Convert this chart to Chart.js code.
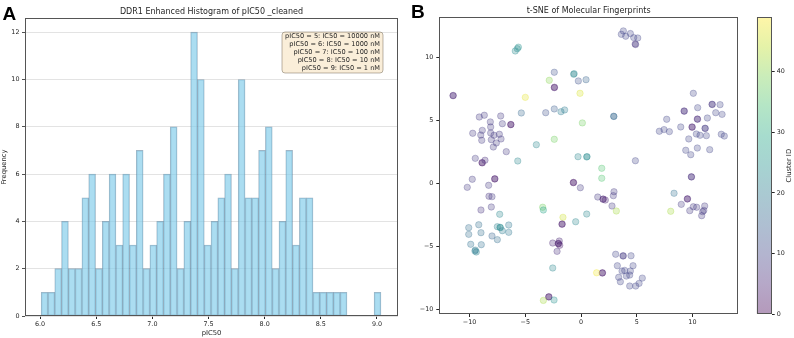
<!DOCTYPE html>
<html>
<head>
<meta charset="utf-8">
<script src="https://cdn.jsdelivr.net/npm/chart.js@4.4.1/dist/chart.umd.min.js"></script>
<style>
  body { margin: 0; width: 794px; height: 338px; background: #fff; position: relative; overflow: hidden; }
  .box { position: absolute; top: 0; height: 338px; }
  .panel { position: absolute; font-family: "Liberation Sans", Arial, sans-serif; font-weight: bold; font-size: 19px; line-height: 19px; color: #000; }
</style>
</head>
<body>
<div class="box" style="left:0;width:405px"><canvas id="histChart"></canvas></div>
<div class="box" style="left:405px;width:340px"><canvas id="tsneChart"></canvas></div>
<div class="box" style="left:750px;width:44px"><canvas id="cbarChart"></canvas></div>
<div class="panel" style="left:2.5px;top:3.5px">A</div>
<div class="panel" style="left:411px;top:2px">B</div>
<script>
// Panel A: pIC50 histogram, 50 bins starting at binStart
const binStart = 6.01;
const binWidth = 0.0605;
const binCounts = [1, 1, 2, 4, 2, 2, 5, 6, 2, 4,
                   6, 3, 6, 3, 7, 2, 3, 4, 6, 8,
                   2, 4, 12, 10, 3, 4, 5, 6, 2, 10,
                   5, 5, 7, 8, 2, 4, 7, 3, 5, 5,
                   1, 1, 1, 1, 1, 0, 0, 0, 0, 1];
const histXTicks = [6.0, 6.5, 7.0, 7.5, 8.0, 8.5, 9.0];
const histYTicks = [0, 2, 4, 6, 8, 10, 12];
const ic50Notes = [
    'pIC50 = 5: IC50 = 10000 nM',
    'pIC50 = 6: IC50 = 1000 nM',
    'pIC50 = 7: IC50 = 100 nM',
    'pIC50 = 8: IC50 = 10 nM',
    'pIC50 = 9: IC50 = 1 nM'
];

// Panel B: t-SNE coordinates and cluster ids
const tsneX = [
    -5.90, -5.72, -5.62, -2.40, -0.66, -0.62, -0.24, 0.45, -2.85, -2.40, -2.38, -11.49, -11.47, -5.00, -0.09,
    -5.36, -3.17, -2.40, -1.80, -1.47, 0.12, -2.40, -4.01, -5.68, -0.27, 0.51, 0.54,
    -9.13, -8.68, -7.21, -6.31, -6.29, -8.14, -7.06, -8.86, -8.11, -9.72, -9.00, -8.11, -7.81, -7.33,
    -8.91, -8.05, -7.18, -7.60, -7.87, -6.71, -9.49, -8.89, -8.86, -8.62,
    3.80, 3.62, 4.01, 4.43, 4.73, 5.09, 4.86, 4.90, 2.93, 2.95, 4.88,
    10.08, 9.25, 9.27, 10.47, 11.76, 11.78, 12.48, 12.09, 12.66, 10.44, 10.46, 11.34, 7.69, 8.95, 9.96,
    9.98, 11.13, 11.15, 7.03, 7.45, 7.93, 10.35, 10.68, 11.25, 12.59, 12.86, 9.67, 9.40, 9.85, 10.44, 11.55,
    -9.76, -7.75, -7.73, -10.21, -8.29, -8.26, -7.99, -8.98, -8.05, -7.30,
    -10.08, -9.18, -10.08, -8.98, -7.99, -7.51, -7.27, -7.24, -7.06, -6.49, -6.49, -7.51, -9.90, -8.95,
    -9.52, -9.40, -9.48,
    -0.69, -0.67, -0.06, -3.44, -3.38, -1.62, -1.71, -1.69, -0.48, 0.51, -2.54, -1.95, -2.04, -2.02,
    -1.91, -2.15, -2.54, -2.90, -2.88, -3.38, -2.42,
    1.86, 1.86, 1.50, 1.97, 1.99, 2.18, 2.96, 2.90, 2.78, 3.17,
    9.90, 9.92, 8.35, 9.54, 9.56, 9.00, 8.05, 9.76, 10.08, 10.38, 11.10, 10.92, 11.02, 10.83,
    3.11, 3.77, 3.79, 4.49, 3.26, 3.68, 3.92, 4.67, 4.43, 3.38, 4.07, 4.37, 3.53, 5.50, 5.21, 4.91,
    4.37, 1.91, 1.93, 1.40
];
const tsneY = [
    10.50, 10.68, 10.80, 8.81, 8.65, 8.70, 8.12, 8.22, 8.17, 7.59, 7.62, 6.95, 6.97, 6.82, 7.14,
    5.58, 5.60, 5.90, 5.68, 5.82, 4.79, 3.49, 3.06, 1.77, 2.11, 2.09, 2.12,
    5.26, 5.40, 5.34, 4.65, 4.67, 4.87, 4.73, 4.20, 4.47, 3.97, 3.83, 3.99, 3.81, 3.89,
    3.41, 3.46, 3.52, 3.20, 2.88, 2.51, 1.98, 1.64, 1.62, 1.83,
    12.09, 11.82, 11.67, 11.88, 11.56, 11.53, 11.05, 11.01, 5.32, 5.30, 1.79,
    7.14, 5.74, 5.72, 6.00, 6.27, 6.25, 6.24, 5.60, 5.47, 5.10, 5.08, 5.18, 5.08, 4.47, 4.47,
    4.45, 4.37, 4.35, 4.13, 4.26, 4.10, 3.91, 3.81, 3.78, 3.89, 3.75, 3.52, 2.62, 2.27, 2.80, 2.67,
    0.32, 0.34, 0.36, -0.32, -0.16, -1.03, -1.06, -2.12, -1.88, -2.46,
    -3.52, -3.29, -4.05, -3.92, -4.18, -3.44, -3.49, -3.52, -3.76, -3.31, -3.89, -4.47, -4.84, -4.87,
    -5.37, -5.45, -5.30,
    0.05, 0.07, -0.35, -1.90, -2.12, -2.70, -3.25, -3.23, -3.05, -2.44, -4.74, -4.58, -4.79, -4.77,
    -4.92, -5.40, -6.72, -9.02, -9.00, -9.29, -9.26,
    1.19, 0.40, -1.09, -1.27, -1.25, -1.33, -0.67, -0.98, -1.80, -2.20,
    0.52, 0.50, -0.79, -1.25, -1.23, -1.67, -2.22, -2.17, -1.86, -1.90, -1.80, -2.25, -2.15, -2.57,
    -5.63, -5.77, -5.75, -5.75, -6.54, -6.96, -6.91, -6.54, -6.96, -7.46, -7.36, -7.28, -7.81, -7.52, -7.94, -8.15,
    -8.15, -7.12, -7.10, -7.10
];
const clusterId = [
    23, 23, 24, 12, 22, 22, 12, 15, 40, 3, 3, 5, 5, 47, 46,
    16, 12, 14, 20, 20, 38, 38, 22, 22, 22, 23, 23,
    8, 8, 8, 3, 3, 8, 8, 8, 8, 8, 8, 8, 8, 8,
    8, 8, 8, 8, 8, 8, 8, 3, 3, 6,
    10, 10, 10, 10, 10, 10, 6, 8, 16, 16, 10,
    10, 6, 6, 10, 6, 8, 10, 10, 10, 5, 6, 10, 10, 10, 4,
    4, 8, 8, 10, 10, 10, 10, 10, 10, 10, 10, 10, 10, 10, 10, 10,
    8, 3, 3, 8, 8, 7, 8, 7, 8, 22,
    17, 17, 17, 17, 15, 21, 23, 23, 20, 19, 19, 17, 18, 18,
    20, 21, 20,
    2, 3, 8, 38, 28, 45, 3, 3, 22, 22, 5, 5, 3, 3,
    3, 6, 22, 3, 3, 42, 24,
    35, 35, 8, 4, 4, 4, 8, 8, 8, 42,
    6, 6, 18, 4, 4, 8, 42, 8, 8, 8, 8, 8, 8, 8,
    10, 8, 8, 10, 10, 10, 10, 10, 10, 10, 10, 10, 10, 10, 10, 10,
    10, 3, 3, 48
];
const tsneTicks = [-10, -5, 0, 5, 10];
const clusterTicks = [0, 10, 20, 30, 40];
const clusterMax = 49;

const FONT = '"DejaVu Sans", sans-serif';
const INK = '#262626';
const SPINE = '#555';

Chart.defaults.font.family = FONT;
Chart.defaults.color = INK;
Chart.defaults.animation = false;
Chart.defaults.events = [];
Chart.defaults.responsive = true;
Chart.defaults.maintainAspectRatio = false;
Chart.defaults.plugins.legend.display = false;
Chart.defaults.plugins.tooltip.enabled = false;

// viridis colour map
const viridisStops = [[68, 1, 84], [72, 36, 117], [65, 68, 135], [53, 95, 141], [42, 120, 142],
    [33, 145, 140], [34, 168, 132], [68, 191, 112], [122, 209, 81], [189, 223, 38], [253, 231, 37]];

function viridis(v, a) {
    const n = viridisStops.length - 1;
    const t = Math.min(Math.max(v / clusterMax, 0), 1) * n;
    const i = Math.min(Math.floor(t), n - 1);
    const f = t - i;
    const c = viridisStops[i].map((x, k) => Math.round(x + (viridisStops[i + 1][k] - x) * f));
    return `rgba(${c[0]},${c[1]},${c[2]},${a})`;
}

function fixTicks(list) {
    return scale => { scale.ticks = list.map(v => ({ value: v })); };
}

const minus = v => String(v).replace('-', '\u2212');

// frame round the plot area, plus titles matplotlib-style
const framePlugin = {
    id: 'frame',
    afterDraw(chart, args, opts) {
        const { ctx, chartArea: a } = chart;
        ctx.save();
        ctx.strokeStyle = SPINE;
        ctx.lineWidth = 1;
        const l = Math.round(a.left) + 0.5, t = Math.round(a.top) + 0.5;
        const r = Math.round(a.right) - 0.5, b = Math.round(a.bottom) - 0.5;
        ctx.strokeRect(l, t, r - l, b - t);
        ctx.fillStyle = INK;
        ctx.textAlign = 'center';
        ctx.textBaseline = 'middle';
        if (opts.title) {
            ctx.font = `${opts.titleSize}px ${FONT}`;
            ctx.fillText(opts.title, (a.left + a.right) / 2, opts.titleY);
        }
        if (opts.label) {
            ctx.font = `${opts.labelSize}px ${FONT}`;
            ctx.translate(opts.labelX, (a.top + a.bottom) / 2);
            ctx.rotate(-Math.PI / 2);
            ctx.fillText(opts.label, 0, 0);
        }
        ctx.restore();
    }
};

// IC50 reference box in panel A
const notesPlugin = {
    id: 'notes',
    afterDatasetsDraw(chart) {
        const { ctx, chartArea: a } = chart;
        const w = 101, h = 41;
        const x0 = a.right - 15 - w, y0 = a.top + 14;
        ctx.save();
        ctx.beginPath();
        ctx.roundRect(x0, y0, w, h, 3);
        ctx.fillStyle = 'rgba(245,222,179,0.5)';
        ctx.fill();
        ctx.strokeStyle = 'rgba(110,100,80,0.6)';
        ctx.lineWidth = 0.8;
        ctx.stroke();
        ctx.font = `6.6px ${FONT}`;
        ctx.textAlign = 'right';
        ctx.textBaseline = 'middle';
        ctx.fillStyle = INK;
        ic50Notes.forEach((s, i) => ctx.fillText(s, x0 + w - 3, y0 + 4.2 + i * 8.1));
        ctx.restore();
    }
};

new Chart(document.getElementById('histChart'), {
    type: 'bar',
    data: {
        datasets: [{
            data: binCounts.map((n, i) => ({ x: binStart + (i + 0.5) * binWidth, y: n })),
            backgroundColor: 'rgba(135,206,235,0.7)',
            borderColor: 'rgba(80,120,150,0.55)',
            borderWidth: c => (c.raw && c.raw.y > 0 ? 0.8 : 0),
            borderSkipped: false,
            barPercentage: 1,
            categoryPercentage: 1
        }]
    },
    options: {
        layout: { padding: { top: 18, right: 7, left: 0, bottom: 0 } },
        scales: {
            x: {
                type: 'linear', min: 5.866, max: 9.187, offset: false,
                afterBuildTicks: fixTicks(histXTicks),
                afterFit: s => { s.height = 22; },
                ticks: { font: { size: 6.4 }, padding: 2, maxRotation: 0, autoSkip: false, callback: v => v.toFixed(1) },
                grid: { offset: false, drawOnChartArea: false, tickLength: 3, tickColor: INK },
                border: { display: false },
                title: { display: true, text: 'pIC50', font: { size: 6.8 }, padding: { top: 0, bottom: 0.5 } }
            },
            y: {
                min: 0, max: 12.6,
                afterBuildTicks: fixTicks(histYTicks),
                afterFit: s => { s.width = 25; },
                ticks: { font: { size: 6.4 }, padding: 2.5 },
                grid: { color: '#dcdcdc', lineWidth: 0.8, tickLength: 3, tickColor: INK },
                border: { display: false },
                title: { display: true, text: 'Frequency', font: { size: 6.8 }, padding: 0 }
            }
        },
        plugins: { frame: { title: 'DDR1 Enhanced Histogram of pIC50 _cleaned', titleSize: 8, titleY: 11.7 } }
    },
    plugins: [framePlugin, notesPlugin]
});

new Chart(document.getElementById('tsneChart'), {
    type: 'scatter',
    data: {
        datasets: [{
            data: tsneX.map((x, i) => ({ x: x, y: tsneY[i] })),
            backgroundColor: c => viridis(clusterId[c.dataIndex], 0.28),
            borderColor: c => viridis(clusterId[c.dataIndex], 0.32),
            borderWidth: 0.9,
            pointRadius: 3.2
        }]
    },
    options: {
        layout: { padding: { top: 17.3, right: 7, left: 0, bottom: 0 } },
        scales: {
            x: {
                type: 'linear', min: -12.72, max: 14.09,
                afterBuildTicks: fixTicks(tsneTicks),
                afterFit: s => { s.height = 24; },
                ticks: { font: { size: 6.4 }, padding: 2, maxRotation: 0, autoSkip: false, callback: minus },
                grid: { drawOnChartArea: false, tickLength: 3, tickColor: INK },
                border: { display: false }
            },
            y: {
                min: -10.37, max: 13.17,
                afterBuildTicks: fixTicks(tsneTicks),
                afterFit: s => { s.width = 34.3; },
                ticks: { font: { size: 6.4 }, padding: 3, callback: minus },
                grid: { drawOnChartArea: false, tickLength: 3, tickColor: INK },
                border: { display: false }
            }
        },
        plugins: { frame: { title: 't-SNE of Molecular Fingerprints', titleSize: 8, titleY: 11 } }
    },
    plugins: [framePlugin]
});

function cbGradient(c) {
    const { ctx, chartArea: a } = c.chart;
    if (!a) return null;
    const g = ctx.createLinearGradient(0, a.bottom, 0, a.top);
    viridisStops.forEach((s, i) => g.addColorStop(i / (viridisStops.length - 1), `rgba(${s},0.4)`));
    return g;
}

new Chart(document.getElementById('cbarChart'), {
    type: 'bar',
    data: {
        labels: ['Cluster ID'],
        datasets: [{ data: [[0, clusterMax]], backgroundColor: cbGradient, borderWidth: 0, barPercentage: 1, categoryPercentage: 1 }]
    },
    options: {
        layout: { padding: { top: 17.3, left: 6.7, right: 0, bottom: 24 } },
        scales: {
            x: { display: false },
            y: {
                position: 'right', min: 0, max: clusterMax,
                afterBuildTicks: fixTicks(clusterTicks),
                afterFit: s => { s.width = 22.3; },
                ticks: { font: { size: 6.4 }, padding: 2 },
                grid: { drawOnChartArea: false, tickLength: 3, tickColor: INK },
                border: { display: false }
            }
        },
        plugins: { frame: { label: 'Cluster ID', labelSize: 6.8, labelX: 39.5 } }
    },
    plugins: [framePlugin]
});
</script>
</body>
</html>
